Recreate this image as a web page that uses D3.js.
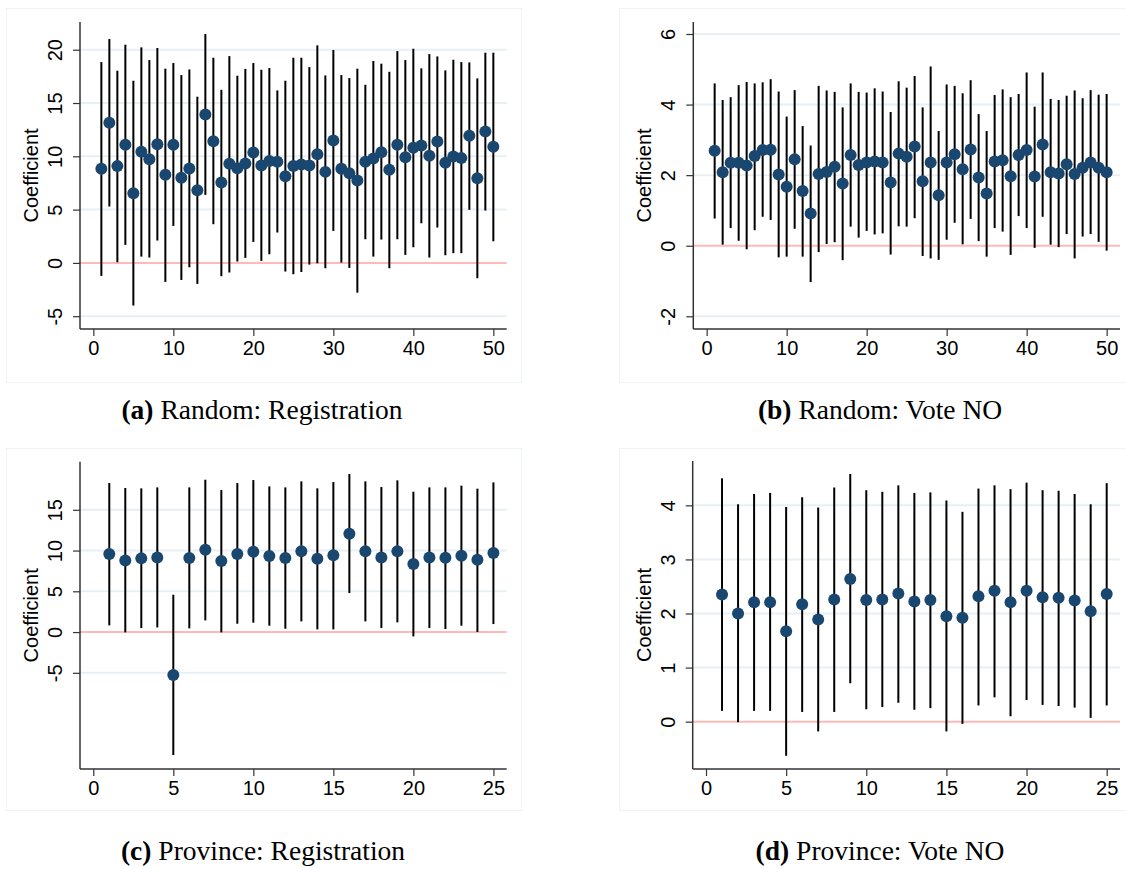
<!DOCTYPE html>
<html>
<head>
<meta charset="utf-8">
<script src="https://cdn.jsdelivr.net/npm/d3@7"></script>
<style>
  body { margin: 0; background: #fff; }
  svg { display: block; }
</style>
</head>
<body>
<div id="chart"></div>
<script>
// (a) Random: Registration
const regRandomCoef = [8.83,13.15,9.08,11.08,6.54,10.42,9.73,11.14,8.26,11.08,7.98,8.86,6.82,13.93,11.42,7.54,9.3,8.89,9.33,10.36,9.14,9.55,9.5,8.14,9.1,9.23,9.14,10.2,8.54,11.49,8.83,8.42,7.73,9.48,9.8,10.39,8.73,11.08,9.92,10.8,11.02,10.05,11.39,9.39,9.98,9.83,11.92,7.95,12.33,10.89];
const regRandomHigh = [18.84,21.0,18.03,20.47,17.09,20.22,19.03,20.16,18.22,18.75,17.62,18.15,15.59,21.47,19.25,16.24,19.4,17.56,18.2,18.75,18.12,18.28,16.18,17.09,19.25,19.25,18.37,20.41,17.59,19.97,17.62,17.34,18.22,16.71,18.94,18.69,17.93,19.87,19.03,20.09,18.25,19.59,19.37,18.06,19.06,18.84,18.81,17.31,19.72,19.72];
const regRandomLow = [-1.22,5.29,0.06,1.69,-4.0,0.59,0.5,2.1,-1.78,3.47,-1.6,-0.41,-1.97,6.38,3.63,-1.25,-0.9,0.13,0.47,1.97,0.19,0.81,2.85,-0.81,-1.06,-0.85,-0.16,-0.03,-0.5,3.0,0.03,-0.47,-2.79,2.22,0.59,2.19,-0.5,2.22,0.75,1.47,3.72,0.5,3.32,0.72,0.91,0.91,4.98,-1.44,4.91,2.03];

// (b) Random: Vote NO
const voteRandomCoef = [2.69,2.08,2.35,2.35,2.27,2.54,2.71,2.72,2.02,1.67,2.45,1.55,0.91,2.03,2.09,2.24,1.76,2.57,2.29,2.36,2.39,2.36,1.79,2.61,2.52,2.81,1.83,2.36,1.43,2.36,2.59,2.17,2.73,1.93,1.48,2.39,2.42,1.97,2.57,2.71,1.96,2.87,2.08,2.05,2.31,2.03,2.21,2.36,2.21,2.08];
const voteRandomHigh = [4.6,4.13,4.21,4.55,4.64,4.6,4.63,4.72,4.37,3.66,4.41,3.39,2.84,4.53,4.4,4.36,3.92,4.6,4.36,4.34,4.46,4.37,3.79,4.66,4.48,4.81,3.92,5.08,3.25,4.57,4.53,4.32,4.69,3.73,3.25,4.27,4.43,4.21,4.3,4.91,3.94,4.91,4.16,4.13,4.25,4.4,4.18,4.41,4.28,4.3];
const voteRandomLow = [0.77,0.03,0.5,0.14,-0.1,0.44,0.82,0.73,-0.33,-0.31,0.48,-0.31,-1.03,-0.18,0.05,0.1,-0.41,0.54,0.23,0.42,0.32,0.35,-0.25,0.55,0.54,0.78,-0.29,-0.36,-0.4,0.17,0.65,0.04,0.76,0.13,-0.31,0.5,0.4,-0.26,0.84,0.5,-0.06,0.82,0.03,-0.04,0.33,-0.36,0.26,0.33,0.11,-0.14];

// (c) Province: Registration
const regProvCoef = [9.57,8.79,9.04,9.16,-5.28,9.08,10.1,8.71,9.57,9.86,9.33,9.08,9.9,9.0,9.41,12.07,9.9,9.16,9.9,8.34,9.16,9.12,9.37,8.88,9.69];
const regProvHigh = [18.28,17.67,17.63,17.75,4.58,17.75,18.69,17.42,18.28,18.65,17.87,17.75,18.49,17.63,18.4,19.39,18.49,17.79,18.61,17.22,17.75,17.75,17.96,17.59,18.36];
const regProvLow = [0.82,-0.04,0.49,0.57,-15.09,0.45,1.43,-0.04,1.02,1.15,0.78,0.41,1.31,0.33,0.33,4.79,1.31,0.49,1.19,-0.53,0.49,0.37,0.78,0.0,0.98];

// (d) Province: Vote NO
const voteProvCoef = [2.35,2.0,2.21,2.21,1.67,2.17,1.89,2.26,2.64,2.25,2.26,2.37,2.22,2.25,1.95,1.92,2.32,2.42,2.21,2.42,2.3,2.29,2.24,2.04,2.36];
const voteProvHigh = [4.5,4.02,4.21,4.23,3.97,4.15,3.96,4.33,4.58,4.28,4.25,4.37,4.23,4.24,4.09,3.88,4.31,4.37,4.3,4.42,4.28,4.27,4.21,4.02,4.41];
const voteProvLow = [0.2,-0.01,0.2,0.2,-0.63,0.18,-0.18,0.18,0.71,0.23,0.27,0.35,0.22,0.25,-0.18,-0.04,0.3,0.45,0.1,0.4,0.31,0.29,0.26,0.07,0.3];

const randomTicksX = [0, 10, 20, 30, 40, 50];
const provTicksX = [0, 5, 10, 15, 20, 25];
const regRandomTicksY = [-5, 0, 5, 10, 15, 20];
const voteRandomTicksY = [-2, 0, 2, 4, 6];
const regProvTicksY = [-5, 0, 5, 10, 15];
const voteProvTicksY = [0, 1, 2, 3, 4];

const captionTags = ['(a)', '(b)', '(c)', '(d)'];
const captionTexts = ['Random: Registration', 'Random: Vote NO', 'Province: Registration', 'Province: Vote NO'];
const yTitle = 'Coefficient';

const width = 1126, height = 869;
const navy = '#1a476f';
const plain = d => String(d); // ascii hyphen for negatives, like the original

const svg = d3.select('#chart').append('svg')
  .attr('width', width)
  .attr('height', height);

function drawPanel(p) {
  const g = svg.append('g');

  // faint outer box of the graph region
  g.append('rect')
    .attr('x', p.box[0] + 0.5).attr('y', p.box[1] + 0.5)
    .attr('width', p.box[2]).attr('height', p.box[3])
    .attr('fill', 'none')
    .attr('stroke', '#eef4f5')
    .attr('stroke-width', 1);

  const x = d3.scaleLinear().domain(p.xDomain).range([p.left, p.right]);
  const y = d3.scaleLinear().domain(p.yDomain).range([p.bottom, p.top]);

  // grid lines
  g.selectAll('line.grid')
    .data(p.yTicks.filter(t => t !== 0))
    .join('line')
    .attr('class', 'grid')
    .attr('x1', p.left).attr('x2', p.right)
    .attr('y1', d => y(d)).attr('y2', d => y(d))
    .attr('stroke', '#e8f0f3')
    .attr('stroke-width', 2);

  // zero line
  g.append('line')
    .attr('x1', p.left).attr('x2', p.right)
    .attr('y1', y(0)).attr('y2', y(0))
    .attr('stroke', '#ffb9b9')
    .attr('stroke-width', 2);

  // y axis
  const yAxis = g.append('g')
    .attr('transform', `translate(${p.left},0)`)
    .call(d3.axisLeft(y).tickValues(p.yTicks).tickSize(7).tickSizeOuter(0).tickFormat(plain));
  yAxis.select('.domain').attr('stroke', '#333').attr('stroke-width', 1.5)
    .attr('d', `M0,${p.top}V${p.bottom}`);
  yAxis.selectAll('.tick line').attr('stroke', '#333').attr('stroke-width', 1.2);
  yAxis.selectAll('.tick text')
    .attr('x', null).attr('dy', null)
    .attr('transform', 'translate(-18,0) rotate(-90)')
    .attr('text-anchor', 'middle')
    .attr('font-family', 'Liberation Sans, Arial, sans-serif')
    .attr('font-size', 20)
    .attr('fill', '#000');

  // x axis
  const xAxis = g.append('g')
    .attr('transform', `translate(0,${p.bottom})`)
    .call(d3.axisBottom(x).tickValues(p.xTicks).tickSize(7).tickSizeOuter(0).tickFormat(plain));
  xAxis.select('.domain').attr('stroke', '#333').attr('stroke-width', 1.5)
    .attr('d', `M${p.left},0H${p.right}`);
  xAxis.selectAll('.tick line').attr('stroke', '#333').attr('stroke-width', 1.2);
  xAxis.selectAll('.tick text')
    .attr('y', 12).attr('dy', '0.71em')
    .attr('font-family', 'Liberation Sans, Arial, sans-serif')
    .attr('font-size', 20)
    .attr('fill', '#000');

  // y title
  g.append('text')
    .attr('transform', `translate(${p.left - 42},${(p.top + p.bottom) / 2}) rotate(-90)`)
    .attr('text-anchor', 'middle')
    .attr('font-family', 'Liberation Sans, Arial, sans-serif')
    .attr('font-size', 20)
    .text(yTitle);

  const rows = p.coef.map((c, i) => ({ id: i + 1, coef: c, low: p.low[i], high: p.high[i] }));

  // confidence intervals
  g.selectAll('line.ci')
    .data(rows)
    .join('line')
    .attr('class', 'ci')
    .attr('x1', d => x(d.id)).attr('x2', d => x(d.id))
    .attr('y1', d => y(d.low)).attr('y2', d => y(d.high))
    .attr('stroke', '#000')
    .attr('stroke-width', 2);

  // point estimates
  g.selectAll('circle.pt')
    .data(rows)
    .join('circle')
    .attr('class', 'pt')
    .attr('cx', d => x(d.id)).attr('cy', d => y(d.coef))
    .attr('r', 6)
    .attr('fill', navy);

  // caption
  const cap = g.append('text')
    .attr('x', p.capX).attr('y', p.capY)
    .attr('text-anchor', 'middle')
    .attr('font-family', 'Liberation Serif, Times New Roman, serif')
    .attr('font-size', 27.5)
    .attr('fill', '#000');
  cap.append('tspan').attr('font-weight', 'bold').text(p.tag);
  cap.append('tspan').text(' ' + p.caption);
}

drawPanel({
  box: [6, 8, 515, 374], left: 80, right: 506.7, top: 22, bottom: 329,
  xDomain: [-1.67, 51.67], yDomain: [-6.2, 22.6],
  xTicks: randomTicksX, yTicks: regRandomTicksY,
  coef: regRandomCoef, low: regRandomLow, high: regRandomHigh,
  tag: captionTags[0], caption: captionTexts[0], capX: 262, capY: 419
});

drawPanel({
  box: [619, 8, 507, 374], left: 693.3, right: 1120, top: 22, bottom: 329,
  xDomain: [-1.67, 51.67], yDomain: [-2.36, 6.34],
  xTicks: randomTicksX, yTicks: voteRandomTicksY,
  coef: voteRandomCoef, low: voteRandomLow, high: voteRandomHigh,
  tag: captionTags[1], caption: captionTexts[1], capX: 880, capY: 419
});

drawPanel({
  box: [6, 448, 515, 362], left: 80, right: 506.7, top: 461.7, bottom: 769,
  xDomain: [-0.83, 25.83], yDomain: [-16.8, 20.9],
  xTicks: provTicksX, yTicks: regProvTicksY,
  coef: regProvCoef, low: regProvLow, high: regProvHigh,
  tag: captionTags[2], caption: captionTexts[2], capX: 263, capY: 860
});

drawPanel({
  box: [619, 448, 507, 362], left: 692.7, right: 1120, top: 461, bottom: 769,
  xDomain: [-0.83, 25.83], yDomain: [-0.875, 4.82],
  xTicks: provTicksX, yTicks: voteProvTicksY,
  coef: voteProvCoef, low: voteProvLow, high: voteProvHigh,
  tag: captionTags[3], caption: captionTexts[3], capX: 880, capY: 860
});
</script>
</body>
</html>
